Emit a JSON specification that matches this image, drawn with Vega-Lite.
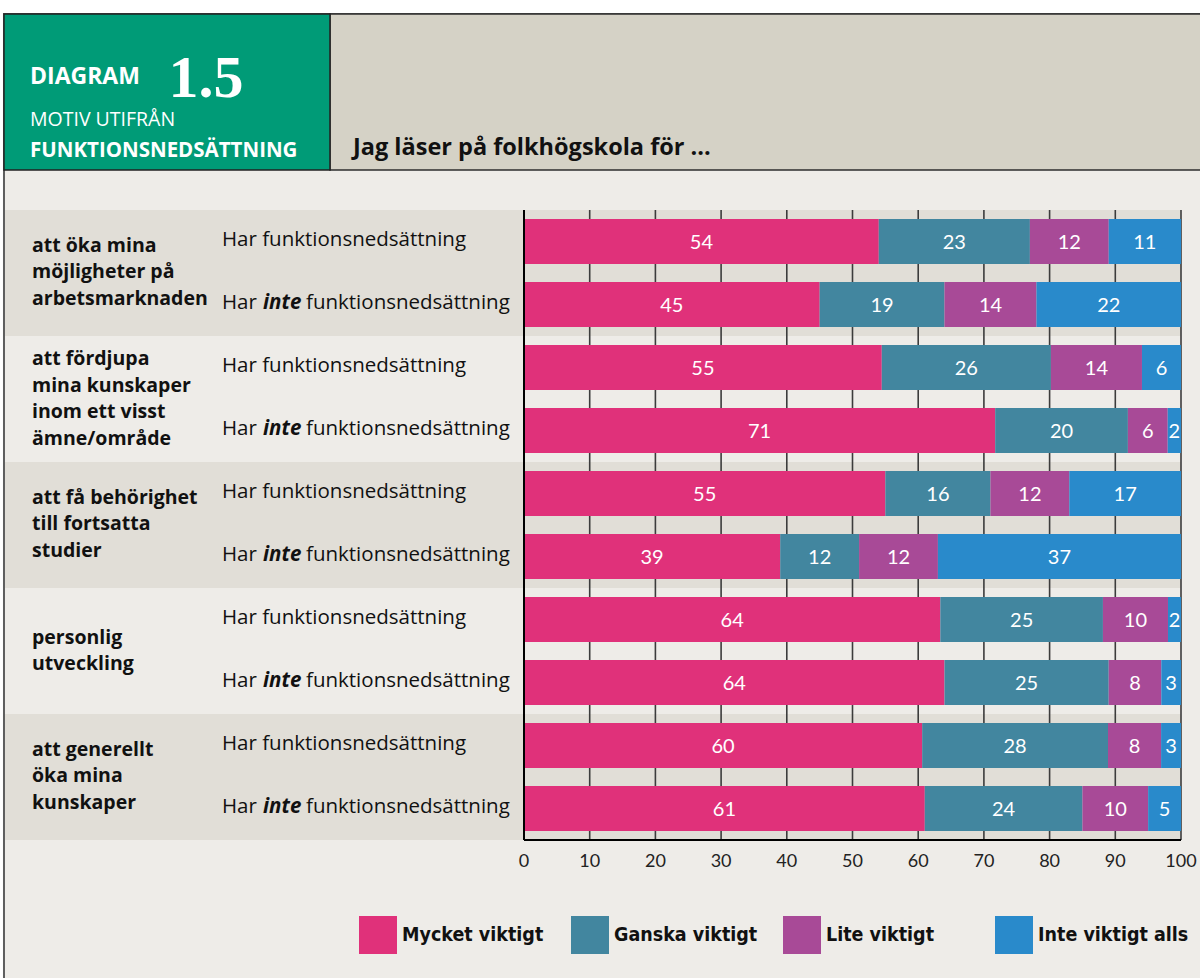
{
  "$schema": "https://vega.github.io/schema/vega-lite/v6.json",
  "width": 657,
  "height": 630,
  "autosize": {"type": "none"},
  "padding": {"left": 524, "top": 210, "right": 19, "bottom": 138},
  "background": "#ffffff",
  "config": {"view": {"stroke": null}},
  "datasets": {
    "svar": [
      {"motiv": "att öka mina\nmöjligheter på\narbetsmarknaden", "grupp": "Har funktionsnedsättning", "svar": "Mycket viktigt", "andel": 54},
      {"motiv": "att öka mina\nmöjligheter på\narbetsmarknaden", "grupp": "Har funktionsnedsättning", "svar": "Ganska viktigt", "andel": 23},
      {"motiv": "att öka mina\nmöjligheter på\narbetsmarknaden", "grupp": "Har funktionsnedsättning", "svar": "Lite viktigt", "andel": 12},
      {"motiv": "att öka mina\nmöjligheter på\narbetsmarknaden", "grupp": "Har funktionsnedsättning", "svar": "Inte viktigt alls", "andel": 11},
      {"motiv": "att öka mina\nmöjligheter på\narbetsmarknaden", "grupp": "Har inte funktionsnedsättning", "svar": "Mycket viktigt", "andel": 45},
      {"motiv": "att öka mina\nmöjligheter på\narbetsmarknaden", "grupp": "Har inte funktionsnedsättning", "svar": "Ganska viktigt", "andel": 19},
      {"motiv": "att öka mina\nmöjligheter på\narbetsmarknaden", "grupp": "Har inte funktionsnedsättning", "svar": "Lite viktigt", "andel": 14},
      {"motiv": "att öka mina\nmöjligheter på\narbetsmarknaden", "grupp": "Har inte funktionsnedsättning", "svar": "Inte viktigt alls", "andel": 22},
      {"motiv": "att fördjupa\nmina kunskaper\ninom ett visst\nämne/område", "grupp": "Har funktionsnedsättning", "svar": "Mycket viktigt", "andel": 55},
      {"motiv": "att fördjupa\nmina kunskaper\ninom ett visst\nämne/område", "grupp": "Har funktionsnedsättning", "svar": "Ganska viktigt", "andel": 26},
      {"motiv": "att fördjupa\nmina kunskaper\ninom ett visst\nämne/område", "grupp": "Har funktionsnedsättning", "svar": "Lite viktigt", "andel": 14},
      {"motiv": "att fördjupa\nmina kunskaper\ninom ett visst\nämne/område", "grupp": "Har funktionsnedsättning", "svar": "Inte viktigt alls", "andel": 6},
      {"motiv": "att fördjupa\nmina kunskaper\ninom ett visst\nämne/område", "grupp": "Har inte funktionsnedsättning", "svar": "Mycket viktigt", "andel": 71},
      {"motiv": "att fördjupa\nmina kunskaper\ninom ett visst\nämne/område", "grupp": "Har inte funktionsnedsättning", "svar": "Ganska viktigt", "andel": 20},
      {"motiv": "att fördjupa\nmina kunskaper\ninom ett visst\nämne/område", "grupp": "Har inte funktionsnedsättning", "svar": "Lite viktigt", "andel": 6},
      {"motiv": "att fördjupa\nmina kunskaper\ninom ett visst\nämne/område", "grupp": "Har inte funktionsnedsättning", "svar": "Inte viktigt alls", "andel": 2},
      {"motiv": "att få behörighet\ntill fortsatta\nstudier", "grupp": "Har funktionsnedsättning", "svar": "Mycket viktigt", "andel": 55},
      {"motiv": "att få behörighet\ntill fortsatta\nstudier", "grupp": "Har funktionsnedsättning", "svar": "Ganska viktigt", "andel": 16},
      {"motiv": "att få behörighet\ntill fortsatta\nstudier", "grupp": "Har funktionsnedsättning", "svar": "Lite viktigt", "andel": 12},
      {"motiv": "att få behörighet\ntill fortsatta\nstudier", "grupp": "Har funktionsnedsättning", "svar": "Inte viktigt alls", "andel": 17},
      {"motiv": "att få behörighet\ntill fortsatta\nstudier", "grupp": "Har inte funktionsnedsättning", "svar": "Mycket viktigt", "andel": 39},
      {"motiv": "att få behörighet\ntill fortsatta\nstudier", "grupp": "Har inte funktionsnedsättning", "svar": "Ganska viktigt", "andel": 12},
      {"motiv": "att få behörighet\ntill fortsatta\nstudier", "grupp": "Har inte funktionsnedsättning", "svar": "Lite viktigt", "andel": 12},
      {"motiv": "att få behörighet\ntill fortsatta\nstudier", "grupp": "Har inte funktionsnedsättning", "svar": "Inte viktigt alls", "andel": 37},
      {"motiv": "personlig\nutveckling", "grupp": "Har funktionsnedsättning", "svar": "Mycket viktigt", "andel": 64},
      {"motiv": "personlig\nutveckling", "grupp": "Har funktionsnedsättning", "svar": "Ganska viktigt", "andel": 25},
      {"motiv": "personlig\nutveckling", "grupp": "Har funktionsnedsättning", "svar": "Lite viktigt", "andel": 10},
      {"motiv": "personlig\nutveckling", "grupp": "Har funktionsnedsättning", "svar": "Inte viktigt alls", "andel": 2},
      {"motiv": "personlig\nutveckling", "grupp": "Har inte funktionsnedsättning", "svar": "Mycket viktigt", "andel": 64},
      {"motiv": "personlig\nutveckling", "grupp": "Har inte funktionsnedsättning", "svar": "Ganska viktigt", "andel": 25},
      {"motiv": "personlig\nutveckling", "grupp": "Har inte funktionsnedsättning", "svar": "Lite viktigt", "andel": 8},
      {"motiv": "personlig\nutveckling", "grupp": "Har inte funktionsnedsättning", "svar": "Inte viktigt alls", "andel": 3},
      {"motiv": "att generellt\nöka mina\nkunskaper", "grupp": "Har funktionsnedsättning", "svar": "Mycket viktigt", "andel": 60},
      {"motiv": "att generellt\nöka mina\nkunskaper", "grupp": "Har funktionsnedsättning", "svar": "Ganska viktigt", "andel": 28},
      {"motiv": "att generellt\nöka mina\nkunskaper", "grupp": "Har funktionsnedsättning", "svar": "Lite viktigt", "andel": 8},
      {"motiv": "att generellt\nöka mina\nkunskaper", "grupp": "Har funktionsnedsättning", "svar": "Inte viktigt alls", "andel": 3},
      {"motiv": "att generellt\nöka mina\nkunskaper", "grupp": "Har inte funktionsnedsättning", "svar": "Mycket viktigt", "andel": 61},
      {"motiv": "att generellt\nöka mina\nkunskaper", "grupp": "Har inte funktionsnedsättning", "svar": "Ganska viktigt", "andel": 24},
      {"motiv": "att generellt\nöka mina\nkunskaper", "grupp": "Har inte funktionsnedsättning", "svar": "Lite viktigt", "andel": 10},
      {"motiv": "att generellt\nöka mina\nkunskaper", "grupp": "Har inte funktionsnedsättning", "svar": "Inte viktigt alls", "andel": 5}
    ],
    "kategorier": [
      {"svar": "Mycket viktigt", "nr": 1},
      {"svar": "Ganska viktigt", "nr": 2},
      {"svar": "Lite viktigt", "nr": 3},
      {"svar": "Inte viktigt alls", "nr": 4}
    ],
    "skala": [{"t": 0}, {"t": 10}, {"t": 20}, {"t": 30}, {"t": 40}, {"t": 50}, {"t": 60}, {"t": 70}, {"t": 80}, {"t": 90}, {"t": 100}]
  },
  "resolve": {"scale": {"x": "independent", "y": "independent", "color": "independent"}},
  "layer": [
    {
      "data": {"values": [{}]},
      "layer": [
        {
          "mark": {"type": "rect", "fill": "#eeece8", "stroke": "#5e5e5e", "strokeWidth": 2},
          "encoding": {
            "x": {"datum": -79.15, "type": "quantitative", "scale": {"domain": [0, 100], "nice": false}, "axis": null},
            "x2": {"datum": 110},
            "y": {"datum": -3.111, "type": "quantitative", "scale": {"domain": [0, 10], "nice": false, "reverse": true}, "axis": null},
            "y2": {"datum": 13}
          }
        },
        {
          "mark": {"type": "rect", "fill": "#d5d2c6", "stroke": "#2e2e2e", "strokeWidth": 1.5},
          "encoding": {"x": {"datum": -29.53, "type": "quantitative", "axis": null}, "x2": {"datum": 110}, "y": {"datum": -3.111, "type": "quantitative", "axis": null}, "y2": {"datum": -0.635}}
        },
        {
          "mark": {"type": "rect", "fill": "#009b77", "stroke": "#222222", "strokeWidth": 1.5},
          "encoding": {"x": {"datum": -79.15, "type": "quantitative", "axis": null}, "x2": {"datum": -29.53}, "y": {"datum": -3.111, "type": "quantitative", "axis": null}, "y2": {"datum": -0.635}}
        },
        {
          "mark": {"type": "text", "text": "DIAGRAM", "font": "Open Sans", "fontWeight": "bold", "fontSize": 23, "color": "#ffffff", "align": "left", "baseline": "alphabetic"},
          "encoding": {"x": {"datum": -75.19, "type": "quantitative", "axis": null}, "y": {"datum": -2.0, "type": "quantitative", "axis": null}}
        },
        {
          "mark": {"type": "text", "text": "1.5", "font": "Liberation Serif", "fontWeight": "bold", "fontSize": 60, "color": "#ffffff", "align": "left", "baseline": "alphabetic"},
          "encoding": {"x": {"datum": -54.1, "type": "quantitative", "axis": null}, "y": {"datum": -1.794, "type": "quantitative", "axis": null}}
        },
        {
          "mark": {"type": "text", "text": "MOTIV UTIFRÅN", "font": "Open Sans", "fontSize": 19.5, "color": "#ffffff", "align": "left", "baseline": "alphabetic"},
          "encoding": {"x": {"datum": -75.19, "type": "quantitative", "axis": null}, "y": {"datum": -1.333, "type": "quantitative", "axis": null}}
        },
        {
          "mark": {"type": "text", "text": "FUNKTIONSNEDSÄTTNING", "font": "Open Sans", "fontWeight": "bold", "fontSize": 20.5, "color": "#ffffff", "align": "left", "baseline": "alphabetic"},
          "encoding": {"x": {"datum": -75.19, "type": "quantitative", "axis": null}, "y": {"datum": -0.841, "type": "quantitative", "axis": null}}
        },
        {
          "mark": {"type": "text", "text": "Jag läser på folkhögskola för ...", "font": "Open Sans", "fontWeight": "bold", "fontSize": 23.5, "color": "#111111", "align": "left", "baseline": "alphabetic"},
          "encoding": {"x": {"datum": -26.03, "type": "quantitative", "axis": null}, "y": {"datum": -0.873, "type": "quantitative", "axis": null}}
        }
      ]
    },
    {
      "data": {"name": "svar"},
      "layer": [
        {
          "transform": [{"aggregate": [{"op": "count", "as": "n"}], "groupby": ["motiv"]}],
          "mark": {"type": "rect"},
          "encoding": {
            "y": {"field": "motiv", "type": "nominal", "sort": null, "axis": null,
              "scale": {"domain": ["att öka mina\nmöjligheter på\narbetsmarknaden", "att fördjupa\nmina kunskaper\ninom ett visst\nämne/område", "att få behörighet\ntill fortsatta\nstudier", "personlig\nutveckling", "att generellt\nöka mina\nkunskaper"], "paddingInner": 0, "paddingOuter": 0}},
            "x": {"datum": -78.995, "type": "quantitative", "scale": {"domain": [0, 100], "nice": false}, "axis": null},
            "x2": {"datum": 100},
            "color": {"field": "motiv", "type": "nominal", "sort": null, "legend": null,
              "scale": {"domain": ["att öka mina\nmöjligheter på\narbetsmarknaden", "att fördjupa\nmina kunskaper\ninom ett visst\nämne/område", "att få behörighet\ntill fortsatta\nstudier", "personlig\nutveckling", "att generellt\nöka mina\nkunskaper"], "range": ["#e1ded7", "#eeece8", "#e1ded7", "#eeece8", "#e1ded7"]}}
          }
        },
        {
          "transform": [{"aggregate": [{"op": "count", "as": "n"}], "groupby": ["motiv"]}, {"filter": "length(split(datum.motiv, '\\n')) === 2"}],
          "mark": {"type": "text", "font": "Open Sans", "fontWeight": "bold", "fontSize": 19.5, "lineHeight": 26.5, "lineBreak": "\n", "color": "#111111", "align": "left", "baseline": "middle", "dy": -13.25},
          "encoding": {
            "y": {"field": "motiv", "type": "nominal", "axis": null},
            "x": {"datum": -74.886, "type": "quantitative", "axis": null},
            "text": {"field": "motiv", "type": "nominal"}
          }
        },
        {
          "transform": [{"aggregate": [{"op": "count", "as": "n"}], "groupby": ["motiv"]}, {"filter": "length(split(datum.motiv, '\\n')) === 3"}],
          "mark": {"type": "text", "font": "Open Sans", "fontWeight": "bold", "fontSize": 19.5, "lineHeight": 26.5, "lineBreak": "\n", "color": "#111111", "align": "left", "baseline": "middle", "dy": -27.5},
          "encoding": {
            "y": {"field": "motiv", "type": "nominal", "axis": null},
            "x": {"datum": -74.886, "type": "quantitative", "axis": null},
            "text": {"field": "motiv", "type": "nominal"}
          }
        },
        {
          "transform": [{"aggregate": [{"op": "count", "as": "n"}], "groupby": ["motiv"]}, {"filter": "length(split(datum.motiv, '\\n')) === 4"}],
          "mark": {"type": "text", "font": "Open Sans", "fontWeight": "bold", "fontSize": 19.5, "lineHeight": 26.5, "lineBreak": "\n", "color": "#111111", "align": "left", "baseline": "middle", "dy": -39.75},
          "encoding": {
            "y": {"field": "motiv", "type": "nominal", "axis": null},
            "x": {"datum": -74.886, "type": "quantitative", "axis": null},
            "text": {"field": "motiv", "type": "nominal"}
          }
        },
        {
          "transform": [{"aggregate": [{"op": "count", "as": "n"}], "groupby": ["motiv", "grupp"]}, {"filter": "datum.grupp === 'Har funktionsnedsättning'"}],
          "mark": {"type": "text", "font": "Open Sans", "fontSize": 20.5, "color": "#111111", "align": "left", "baseline": "middle", "dy": -2},
          "encoding": {
            "y": {"field": "motiv", "type": "nominal", "axis": null},
            "x": {"datum": -45.966, "type": "quantitative", "axis": null},
            "yOffset": {"field": "grupp", "type": "nominal", "scale": {"domain": ["Har funktionsnedsättning", "Har inte funktionsnedsättning"], "paddingInner": 0.286, "paddingOuter": 0.143}},
            "text": {"field": "grupp", "type": "nominal"}
          }
        },
        {
          "transform": [{"aggregate": [{"op": "count", "as": "n"}], "groupby": ["motiv", "grupp"]}, {"filter": "datum.grupp === 'Har inte funktionsnedsättning'"}],
          "encoding": {
            "y": {"field": "motiv", "type": "nominal", "axis": null},
            "yOffset": {"field": "grupp", "type": "nominal"}
          },
          "layer": [
            {
              "mark": {"type": "text", "text": "Har", "font": "Open Sans", "fontSize": 20.5, "color": "#111111", "align": "left", "baseline": "middle", "dy": -2},
              "encoding": {"x": {"datum": -45.966, "type": "quantitative", "axis": null}}
            },
            {
              "mark": {"type": "text", "text": "inte", "font": "Open Sans", "fontSize": 20.5, "fontWeight": "bold", "fontStyle": "italic", "color": "#111111", "align": "left", "baseline": "middle", "dy": -2},
              "encoding": {"x": {"datum": -39.726, "type": "quantitative", "axis": null}}
            },
            {
              "mark": {"type": "text", "text": "funktionsnedsättning", "font": "Open Sans", "fontSize": 20.5, "color": "#111111", "align": "left", "baseline": "middle", "dy": -2},
              "encoding": {"x": {"datum": -33.181, "type": "quantitative", "axis": null}}
            }
          ]
        },
        {
          "data": {"name": "skala"},
          "mark": {"type": "rule", "color": "#3c3c3c", "strokeWidth": 1.6},
          "encoding": {
            "x": {"field": "t", "type": "quantitative", "axis": null}
          }
        }
      ]
    },
    {
      "data": {"name": "svar"},
      "transform": [{"lookup": "svar", "from": {"data": {"name": "kategorier"}, "key": "svar", "fields": ["nr"]}}],
      "encoding": {
        "y": {"field": "motiv", "type": "nominal", "sort": null, "axis": null,
          "scale": {"domain": ["att öka mina\nmöjligheter på\narbetsmarknaden", "att fördjupa\nmina kunskaper\ninom ett visst\nämne/område", "att få behörighet\ntill fortsatta\nstudier", "personlig\nutveckling", "att generellt\nöka mina\nkunskaper"], "paddingInner": 0, "paddingOuter": 0}},
        "yOffset": {"field": "grupp", "type": "nominal", "scale": {"domain": ["Har funktionsnedsättning", "Har inte funktionsnedsättning"], "paddingInner": 0.286, "paddingOuter": 0.143}},
        "x": {"field": "andel", "type": "quantitative", "stack": "normalize", "axis": null, "scale": {"domain": [0, 1], "nice": false}},
        "order": {"field": "nr", "type": "quantitative"},
        "color": {"field": "svar", "type": "nominal", "sort": ["Mycket viktigt", "Ganska viktigt", "Lite viktigt", "Inte viktigt alls"],
          "scale": {"domain": ["Mycket viktigt", "Ganska viktigt", "Lite viktigt", "Inte viktigt alls"], "range": ["#e0317a", "#42869f", "#a84a97", "#298acb"]},
          "legend": {"title": null, "orient": "none", "legendX": -165, "legendY": 706, "direction": "horizontal", "columns": 4, "gridAlign": "all", "columnPadding": 18, "symbolType": "square", "symbolSize": 1444, "symbolStrokeWidth": 0, "labelOffset": 5, "labelFont": "DejaVu Sans Condensed", "labelFontSize": 19.5, "labelFontWeight": "bold", "labelColor": "#111111", "labelLimit": 300}}
      },
      "layer": [
        {"mark": {"type": "bar"}},
        {
          "mark": {"type": "text", "font": "Lato", "fontSize": 20, "baseline": "middle", "dy": 1},
          "encoding": {
            "x": {"field": "andel", "type": "quantitative", "stack": "normalize", "bandPosition": 0.5},
            "fill": {"value": "#ffffff"},
            "text": {"field": "andel", "type": "quantitative"}
          }
        }
      ]
    },
    {
      "data": {"name": "skala"},
      "layer": [
        {
          "mark": {"type": "text", "font": "Lato", "fontSize": 18, "color": "#222222", "align": "center", "baseline": "middle"},
          "encoding": {
            "x": {"field": "t", "type": "quantitative", "scale": {"domain": [0, 100], "nice": false}, "axis": null},
            "y": {"datum": 10.349, "type": "quantitative", "scale": {"domain": [0, 10], "nice": false, "reverse": true}, "axis": null},
            "text": {"field": "t", "type": "quantitative"}
          }
        },
        {
          "data": {"values": [{}]},
          "mark": {"type": "rule", "color": "#000000", "strokeWidth": 2},
          "encoding": {
            "x": {"datum": 0, "type": "quantitative", "axis": null},
            "x2": {"datum": 100},
            "y": {"datum": 10, "type": "quantitative", "axis": null}
          }
        },
        {
          "data": {"values": [{}]},
          "mark": {"type": "rule", "color": "#000000", "strokeWidth": 2},
          "encoding": {
            "x": {"datum": 0, "type": "quantitative", "axis": null},
            "y": {"datum": 0, "type": "quantitative", "axis": null},
            "y2": {"datum": 10}
          }
        }
      ]
    }
  ]
}
